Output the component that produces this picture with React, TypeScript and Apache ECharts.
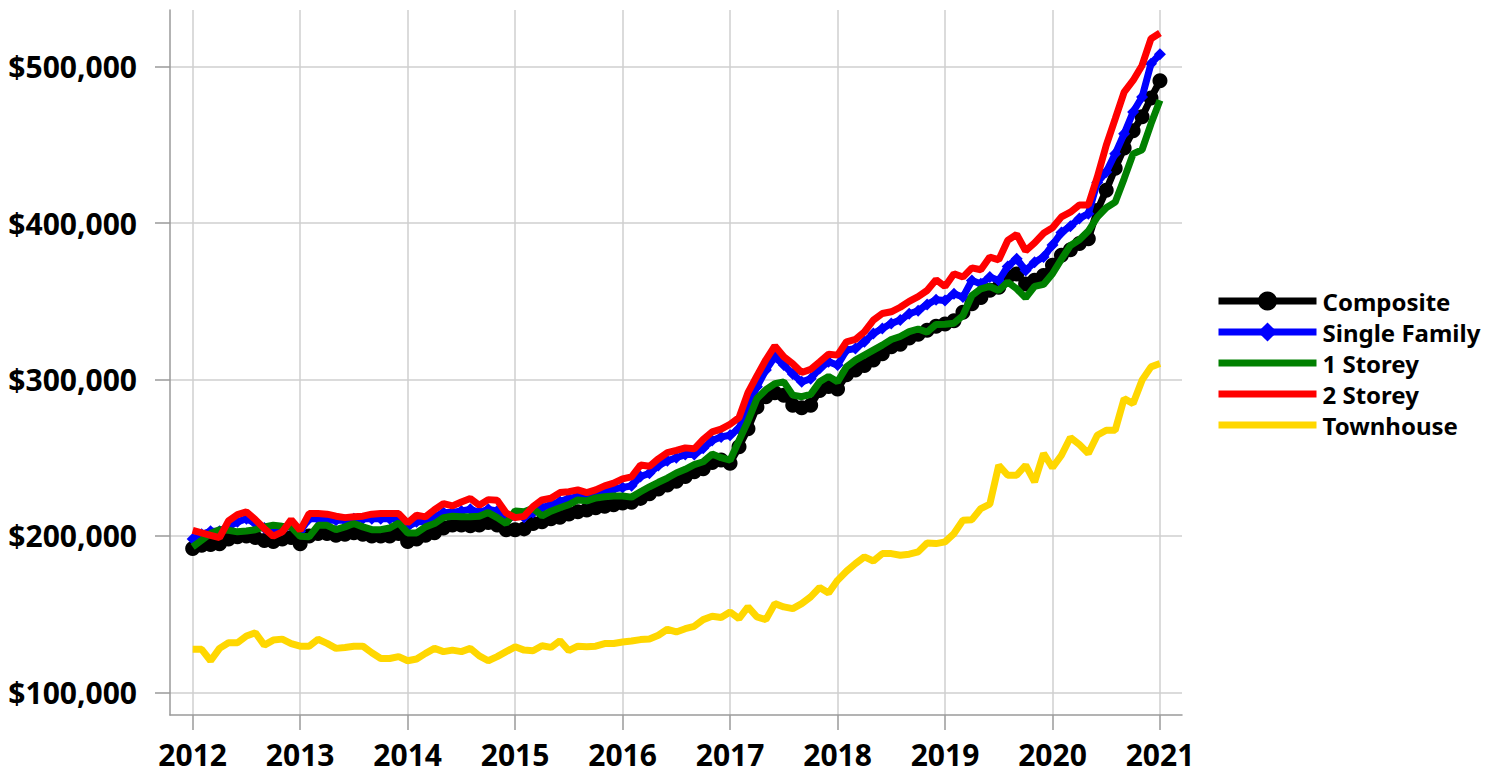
import React, { useEffect, useRef } from 'react';
import * as echarts from 'echarts';

// Monthly index values, Jan 2012 .. Jan 2021 (109 months)
const START_YEAR = 2012;
const YEARS = [2012, 2013, 2014, 2015, 2016, 2017, 2018, 2019, 2020, 2021];
const Y_TICKS = [100000, 200000, 300000, 400000, 500000];
const SERIES_NAMES = ['Composite', 'Single Family', '1 Storey', '2 Storey', 'Townhouse'];

const composite = [
  192000, 194000, 194500, 195000, 198000, 199500, 200000, 199000, 197000, 196500, 198000, 199000,
  195000, 200000, 201500, 201500, 200500, 201000, 202000, 201000, 200000, 200000, 200000, 201500,
  196500, 198000, 200500, 202000, 205000, 207000, 207000, 206500, 207000, 208500, 207000, 204000,
  204000, 204500, 208000, 209000, 211000, 212000, 214000, 215500, 216500, 218000, 219000, 220000,
  221000, 221500, 224000, 227000, 230000, 232500, 235000, 238000, 241000, 243000, 247000, 248500,
  246500, 257000, 268500, 282500, 289000, 291500, 290000, 283500, 282000, 283500, 293000, 295500,
  294000, 303000, 306000, 309000, 312500, 316500, 321000, 322500, 326500, 329000, 331500, 334000,
  335500, 337500, 343000, 348500, 352500, 357000, 359000, 365500, 367500, 361000, 363500, 366500,
  373000, 379500, 383000, 387000, 390000, 408000, 421000, 435000, 448000, 459000, 468000, 480000,
  491000,
];

const singleFamily = [
  198000, 201000, 203000, 203000, 206000, 209000, 211000, 208000, 205000, 203000, 204000, 207000,
  203000, 211000, 211000, 210000, 210000, 210000, 211000, 211000, 211000, 211000, 211000, 211000,
  206000, 209000, 209000, 212000, 215000, 215000, 216000, 217000, 215000, 217000, 216000, 210000,
  213000, 212000, 215000, 218000, 220000, 222000, 224000, 225000, 224000, 226000, 228000, 230000,
  231000, 232000, 238000, 240000, 245000, 248000, 250000, 252000, 252000, 256000, 261000, 263300,
  264400, 268700, 282500, 295300, 306000, 314500, 309200, 303500, 298500, 300500, 307000, 311300,
  309200, 318800, 319800, 324100, 329400, 332600, 335800, 338000, 342000, 344000, 348000, 351000,
  350500, 354800, 352700, 363300, 361200, 365500, 363300, 372300, 377200, 369700, 375000, 378300,
  386000, 394000, 398000, 403000, 406000, 426000, 432600, 444300, 457100, 471000, 480600, 501900,
  508000,
];

const oneStorey = [
  193000, 197200, 201500, 204000, 203600, 202600, 203200, 204000, 205800, 206800, 206200, 205800,
  199800, 199400, 206800, 206800, 204000, 205800, 207900, 205800, 204000, 204000, 205100, 208300,
  201900, 201900, 205800, 207900, 211700, 212600, 212200, 212200, 212600, 214900, 211700, 207900,
  216000, 215500, 217600, 212800, 215800, 218000, 220000, 223000, 222400, 224300, 225000, 225500,
  225500, 224800, 228200, 231400, 234300, 237000, 240200, 242600, 245600, 247400, 252300, 250000,
  248400, 261000, 273500, 287800, 293500, 297400, 298500, 290000, 289000, 290500, 298500, 302000,
  298500, 308100, 312400, 315600, 318800, 322000, 325600, 327500, 330600, 332300, 330300, 335200,
  335300, 336000, 340900, 353700, 358000, 359500, 356900, 362300, 358000, 352200, 359500, 360800,
  367600, 377000, 385700, 389300, 394900, 403800, 409800, 413400, 428400, 444300, 446900, 463500,
  478500,
];

const twoStorey = [
  203600, 201900, 200400, 198900, 209600, 213600, 215400, 210400, 204700, 199800, 202600, 210400,
  203600, 214300, 214300, 213900, 212600, 211700, 212200, 212600, 213900, 214300, 214300, 214300,
  208300, 213200, 212200, 216800, 220700, 219200, 221700, 223900, 219600, 223200, 222800, 214700,
  211700, 212500, 218800, 223000, 224100, 227700, 228300, 229400, 227700, 229400, 232000, 233700,
  236500, 237800, 245300, 244500, 249300, 253300, 254700, 256300, 255700, 261700, 266500, 268300,
  271400, 275600, 291600, 302300, 312600, 321500, 314500, 310000, 304500, 306500, 311300, 316200,
  315600, 324100, 325600, 330500, 338000, 342200, 343300, 346200, 350000, 353000, 356900, 363800,
  359500, 367600, 365500, 371400, 370200, 378300, 376500, 388900, 392800, 382300, 387300, 393500,
  397000, 404000, 407000, 411500, 411600, 429400, 449700, 466700, 483800, 491200, 500800, 517900,
  521500,
];

const townhouse = [
  127600, 127500, 120200, 128100, 131700, 131700, 136000, 138100, 130200, 133400, 134000, 131200,
  129500, 129500, 133900, 131300, 128100, 128700, 129500, 129500, 125300, 121600, 121600, 122800,
  120200, 121300, 124900, 128100, 126000, 127000, 126000, 128100, 123300, 120200, 122800, 126000,
  129100, 127000, 126600, 129800, 128700, 133000, 126600, 129500, 129100, 129500, 131200, 131200,
  132200, 132800, 133700, 134100, 136500, 140300, 138600, 140700, 142200, 146500, 148600, 147800,
  151400, 147100, 154600, 148200, 146500, 156700, 154600, 153500, 156700, 161000, 167000, 163500,
  171600, 177400, 182300, 186600, 184000, 188700, 188700, 187600, 188300, 189800, 195500, 195100,
  196200, 201500, 210000, 210400, 217500, 220300, 245200, 238800, 238800, 245200, 234500, 252700,
  243700, 251600, 262900, 258400, 252700, 264400, 267600, 267600, 287800, 284600, 299600, 308100,
  310200,
];

const SERIES_VALUES = [composite, singleFamily, oneStorey, twoStorey, townhouse];
const SERIES_COLORS = ['#000000', '#0000ff', '#008000', '#ff0000', '#ffd700'];
const SERIES_SYMBOLS = ['circle', 'diamond', 'none', 'none', 'none'];
const SERIES_SYMBOL_SIZES = [15, 12, 0, 0, 0];

// Layout
const W = 1498;
const H = 775;
const PLOT_L = 170;
const PLOT_R = 1182;
const PLOT_T = 10;
const PLOT_B = 715;
const X_MIN = 2011.789;
const X_MAX = 2021.205;
const Y_MIN = 85500;
const Y_MAX = 536250;

const xPix = (v: number) => PLOT_L + ((v - X_MIN) / (X_MAX - X_MIN)) * (PLOT_R - PLOT_L);
const yPix = (v: number) => PLOT_B - ((v - Y_MIN) / (Y_MAX - Y_MIN)) * (PLOT_B - PLOT_T);

const FONT = "'Noto Sans', 'DejaVu Sans', sans-serif";
const AXIS_COLOR = '#9a9a9a';
const GRID_COLOR = '#cfcfcf';

export default function App() {
  const ref = useRef<HTMLDivElement>(null);

  useEffect(() => {
    if (!ref.current) return;
    const chart = echarts.init(ref.current, undefined, { renderer: 'svg' });

    const xMonths = composite.map((_, i) => START_YEAR + i / 12);

    const option: any = {
      animation: false,
      backgroundColor: '#ffffff',
      grid: [
        { left: PLOT_L, right: W - PLOT_R, top: PLOT_T, bottom: H - PLOT_B },
        {
          left: xPix(YEARS[0]),
          right: W - xPix(YEARS[YEARS.length - 1]),
          top: PLOT_T,
          bottom: H - PLOT_B,
        },
        {
          left: PLOT_L,
          right: W - PLOT_R,
          top: yPix(Y_TICKS[Y_TICKS.length - 1]),
          bottom: H - yPix(Y_TICKS[0]),
        },
      ],
      xAxis: [
        {
          gridIndex: 0,
          type: 'value',
          min: X_MIN,
          max: X_MAX,
          axisLine: { show: true, onZero: false, lineStyle: { color: AXIS_COLOR, width: 1.5 } },
          axisTick: { show: false },
          axisLabel: { show: false },
          splitLine: { show: false },
        },
        {
          gridIndex: 1,
          type: 'value',
          min: YEARS[0],
          max: YEARS[YEARS.length - 1],
          interval: 1,
          axisLine: { show: false, onZero: false },
          axisTick: { show: true, length: 15, lineStyle: { color: AXIS_COLOR, width: 1.5 } },
          axisLabel: {
            show: true,
            margin: 24,
            fontSize: 30,
            fontWeight: 'bold',
            fontFamily: FONT,
            color: '#000',
            formatter: (v: number) => String(Math.round(v)),
          },
          splitLine: { show: true, lineStyle: { color: GRID_COLOR, width: 1.5 } },
        },
        {
          gridIndex: 2,
          type: 'value',
          min: X_MIN,
          max: X_MAX,
          show: false,
        },
      ],
      yAxis: [
        {
          gridIndex: 0,
          type: 'value',
          min: Y_MIN,
          max: Y_MAX,
          axisLine: { show: true, onZero: false, lineStyle: { color: AXIS_COLOR, width: 1.5 } },
          axisTick: { show: false },
          axisLabel: { show: false },
          splitLine: { show: false },
        },
        {
          gridIndex: 1,
          type: 'value',
          min: 0,
          max: 1,
          show: false,
        },
        {
          gridIndex: 2,
          type: 'value',
          min: Y_TICKS[0],
          max: Y_TICKS[Y_TICKS.length - 1],
          interval: 100000,
          axisLine: { show: false, onZero: false },
          axisTick: { show: true, length: 15, lineStyle: { color: AXIS_COLOR, width: 1.5 } },
          axisLabel: {
            show: true,
            margin: 33,
            fontSize: 30,
            fontWeight: 'bold',
            fontFamily: FONT,
            color: '#000',
            formatter: (v: number) => '$' + Math.round(v).toLocaleString('en-US'),
          },
          splitLine: { show: true, lineStyle: { color: GRID_COLOR, width: 1.5 } },
        },
      ],
      legend: {
        orient: 'vertical',
        left: 1210,
        top: 284,
        itemWidth: 98,
        itemHeight: 24,
        itemGap: 7,
        lineStyle: { width: 7 },
        data: SERIES_NAMES.map((name, si) =>
          SERIES_SYMBOLS[si] === 'none'
            ? { name, itemStyle: { opacity: 0 } }
            : { name }
        ),
        textStyle: {
          fontSize: 24,
          fontWeight: 'bold',
          fontFamily: FONT,
          color: '#000',
          padding: [0, 0, 0, 1],
        },
      },
      series: SERIES_NAMES.map((name, si) => ({
        name,
        type: 'line',
        xAxisIndex: 0,
        yAxisIndex: 0,
        data: xMonths.map((x, i) => [x, SERIES_VALUES[si][i]]),
        symbol: SERIES_SYMBOLS[si],
        symbolSize: SERIES_SYMBOL_SIZES[si],
        showSymbol: SERIES_SYMBOLS[si] !== 'none',
        lineStyle: { color: SERIES_COLORS[si], width: 7 },
        itemStyle: { color: SERIES_COLORS[si] },
        emphasis: { disabled: true },
        z: 2 + si,
      })),
    };

    chart.setOption(option);
    return () => chart.dispose();
  }, []);

  return (
    <div
      ref={ref}
      style={{ position: 'fixed', left: 0, top: 0, width: W, height: H, background: '#fff' }}
    />
  );
}
